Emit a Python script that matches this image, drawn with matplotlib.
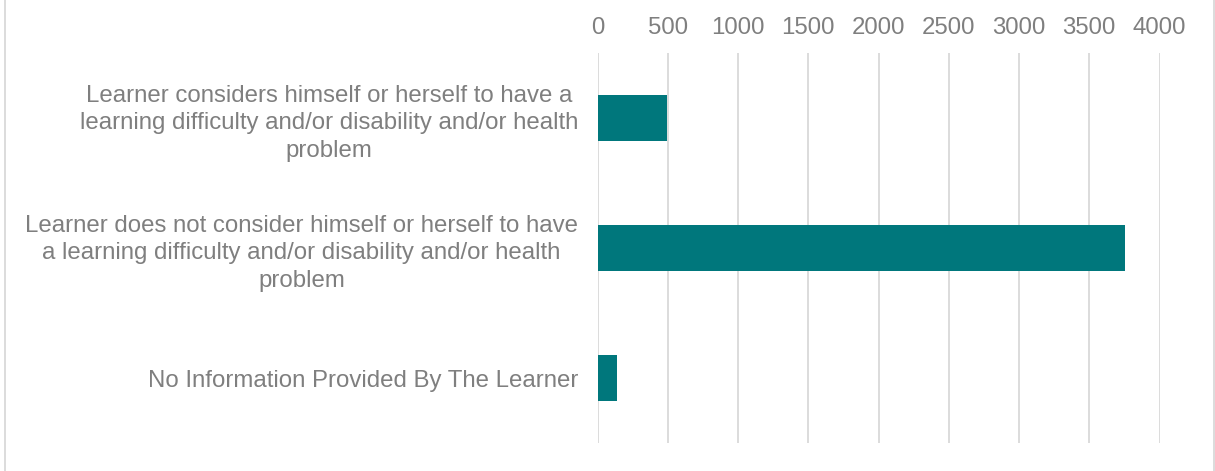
import matplotlib
matplotlib.use("Agg")
import matplotlib.pyplot as plt
from matplotlib.lines import Line2D

categories = [
    "Learner considers himself or herself to have a\nlearning difficulty and/or disability and/or health\nproblem",
    "Learner does not consider himself or herself to have\na learning difficulty and/or disability and/or health\nproblem",
    "No Information Provided By The Learner",
]
values = [497, 3755, 140]
xticks = [0, 500, 1000, 1500, 2000, 2500, 3000, 3500, 4000]

W, H, DPI = 1215, 471, 100
fig = plt.figure(figsize=(W / DPI, H / DPI), dpi=DPI)
plt.rcParams['font.family'] = ['Liberation Sans', 'DejaVu Sans']

left, right, top, bottom = 597.5, 1159.5, 53, 443
ax = fig.add_axes([left / W, 1 - bottom / H, (right - left) / W, (bottom - top) / H])

text_color = '#7f7f7f'
grid_color = '#d9d9d9'
bar_color = '#00777c'
fs = 24 * 72 / DPI

ypos = list(range(len(categories)))
ax.barh(ypos, values, height=0.354, color=bar_color, zorder=3)
ax.set_xlim(0, 4000)
ax.set_ylim(len(categories) - 0.5, -0.5)

ax.set_xticks(xticks)
ax.set_xticklabels([str(t) for t in xticks])
ax.xaxis.tick_top()
ax.tick_params(axis='x', length=0, pad=10, labelsize=fs, labelcolor=text_color)
ax.set_yticks(ypos)
ax.set_yticklabels(categories)
ax.tick_params(axis='y', length=0, pad=14, labelsize=fs, labelcolor=text_color)
for lab in ax.get_yticklabels():
    lab.set_multialignment('center')
    lab.set_linespacing(1.33)

ax.grid(axis='x', color=grid_color, linewidth=1.3, zorder=0)
ax.grid(axis='y', visible=False)
for s in ax.spines.values():
    s.set_visible(False)

# chart area border
for xp in (4.5, 1213.5):
    fig.add_artist(Line2D([xp / W, xp / W], [0, 1], transform=fig.transFigure,
                          color=grid_color, linewidth=1.3))

fig.savefig('out.png', dpi=DPI)
